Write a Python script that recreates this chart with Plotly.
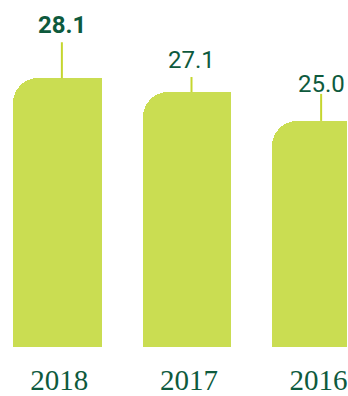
import plotly.graph_objects as go

years = ["2018", "2017", "2016"]
values = [28.1, 27.1, 25.0]
value_labels = ["28.1", "27.1", "25.0"]
label_bold = [True, False, False]

# style: leader line length (px) and label lift (px) above each bar
leader_px = [36, 15, 27]
label_lift_px = [37, 16, 21]

BAR_COLOR = "#cadd52"
LINE_COLOR = "#c5d62f"
TEXT_COLOR = "#0e5a3d"

xs = list(range(len(years)))
bar_w = 0.685

fig = go.Figure()
fig.add_trace(go.Bar(
    x=xs, y=values, width=bar_w,
    marker=dict(color=BAR_COLOR, line=dict(width=0), cornerradius=25),
    hoverinfo="skip", showlegend=False,
))
# square top-right corner: overlay right half without radius
fig.add_trace(go.Bar(
    x=xs, y=values, width=bar_w / 2, offset=0,
    marker=dict(color=BAR_COLOR, line=dict(width=0)),
    hoverinfo="skip", showlegend=False,
))

line_dx = 0.035
for i, (v, lab, b, lp, lift) in enumerate(zip(values, value_labels, label_bold, leader_px, label_lift_px)):
    fig.add_shape(
        type="line", xref="x", yref="y", ysizemode="pixel", yanchor=v,
        x0=i + line_dx, x1=i + line_dx, y0=0, y1=lp,
        line=dict(color=LINE_COLOR, width=2), layer="above",
    )
    fig.add_annotation(
        x=i + line_dx, y=v, xref="x", yref="y", text=lab, showarrow=False,
        yanchor="bottom", yshift=lift,
        font=dict(family="Roboto", size=24, color=TEXT_COLOR,
                  weight="bold" if b else "normal"),
    )

fig.update_layout(
    width=348, height=396,
    margin=dict(l=0, r=0, t=0, b=46),
    paper_bgcolor="white", plot_bgcolor="white",
    barmode="overlay", bargap=0,
    xaxis=dict(
        range=[-0.4423, 2.2346], tickmode="array", tickvals=xs, ticktext=years,
        showgrid=False, zeroline=False, showline=False, ticks="",
        tickfont=dict(family="Liberation Serif", size=29, color=TEXT_COLOR),
        ticklabelstandoff=13, ticklabelshift=2, ticklabeloverflow="allow",
    ),
    yaxis=dict(range=[8.56, 33.79], visible=False, showgrid=False, zeroline=False),
)

fig.write_html("out.html")
